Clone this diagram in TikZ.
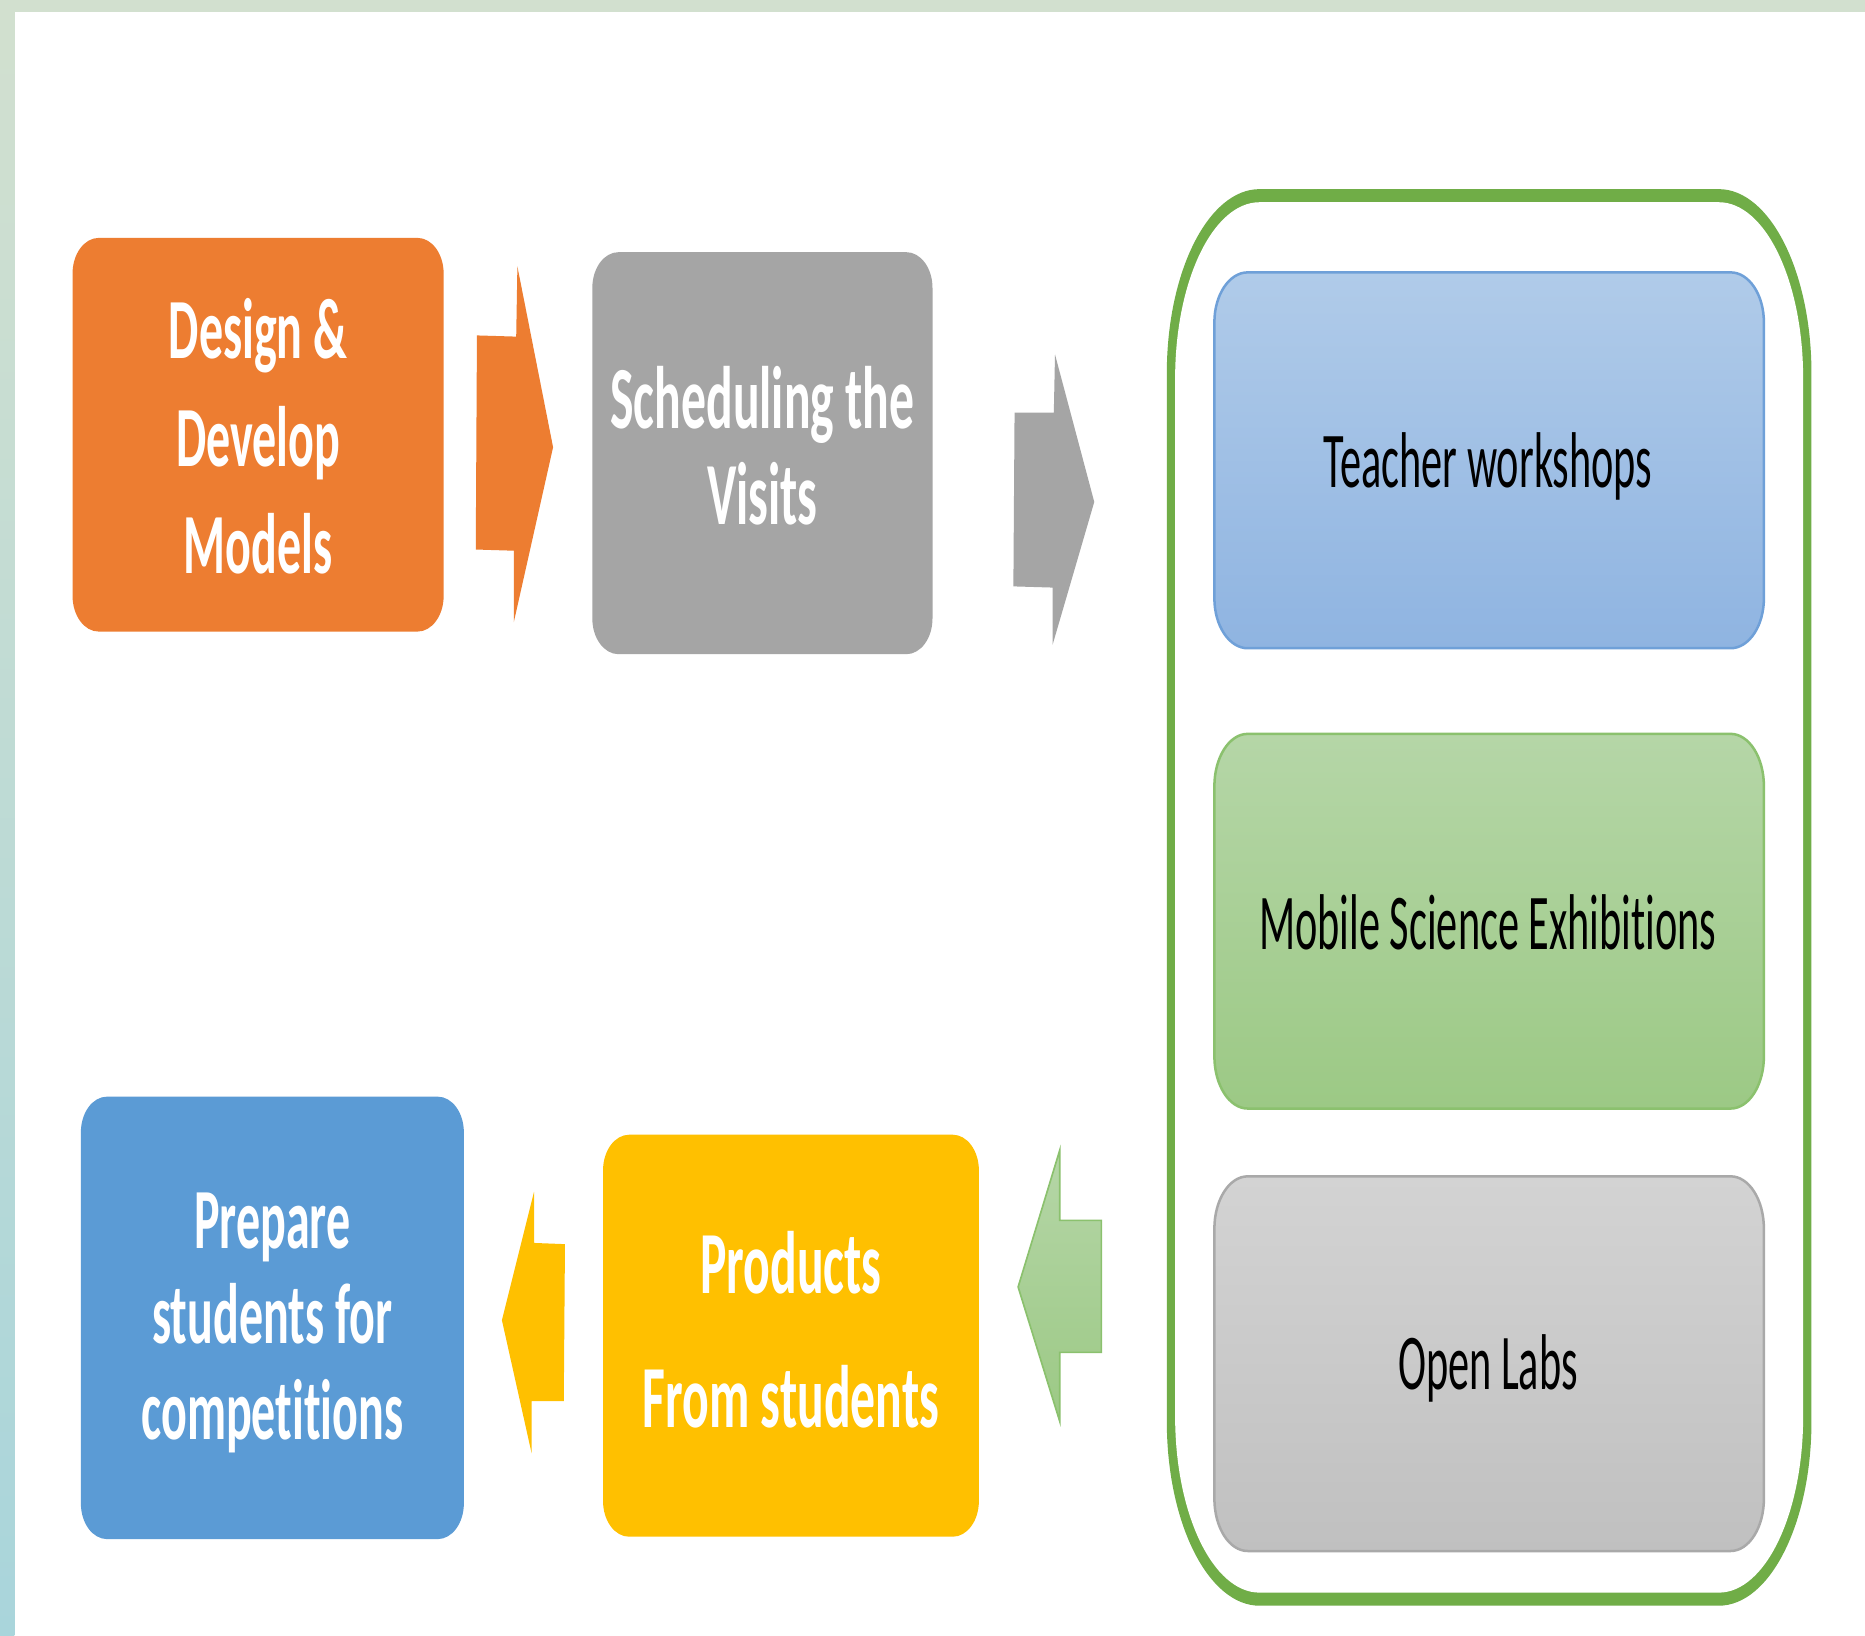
\documentclass[tikz,border=0pt]{standalone}
\usepackage{fontspec}
\newfontfamily\cfont[FakeStretch=0.535, Ligatures={NoCommon,NoContextual}, BoldFeatures={FakeStretch=0.56}]{Carlito}
\definecolor{bandtop}{HTML}{D2E0CF}
\definecolor{bandbot}{HTML}{A9D5DB}
\definecolor{corange}{HTML}{ED7D31}
\definecolor{cgray}{HTML}{A5A5A5}
\definecolor{cblue}{HTML}{5B9BD5}
\definecolor{cyellow}{HTML}{FFC000}
\definecolor{cgreen}{HTML}{70AD47}
\definecolor{tblueT}{HTML}{B0CBE9}
\definecolor{tblueB}{HTML}{8FB4E1}
\definecolor{tblueD}{HTML}{6FA0D8}
\definecolor{mgreenT}{HTML}{B5D6A7}
\definecolor{mgreenB}{HTML}{9CC985}
\definecolor{mgreenD}{HTML}{8BC16E}
\definecolor{lgrayT}{HTML}{D3D3D3}
\definecolor{lgrayB}{HTML}{C0C0C0}
\definecolor{lgrayD}{HTML}{A9A9A9}
% rounded box with elliptical corners: #1 style, #2 x1, #3 y1, #4 x2, #5 y2, #6 rx, #7 ry
\newcommand{\erbox}[7]{%
  \pgfmathsetmacro\eAx{#2+#6}\pgfmathsetmacro\eBx{#4-#6}%
  \pgfmathsetmacro\eAy{#3+#7}\pgfmathsetmacro\eBy{#5-#7}%
  \pgfmathsetmacro\eCxa{#2+0.448*#6}\pgfmathsetmacro\eCxb{#4-0.448*#6}%
  \pgfmathsetmacro\eCya{#3+0.448*#7}\pgfmathsetmacro\eCyb{#5-0.448*#7}%
  \path[#1] (\eAx,#3) -- (\eBx,#3) .. controls (\eCxb,#3) and (#4,\eCya) .. (#4,\eAy)
    -- (#4,\eBy) .. controls (#4,\eCyb) and (\eCxb,#5) .. (\eBx,#5)
    -- (\eAx,#5) .. controls (\eCxa,#5) and (#2,\eCyb) .. (#2,\eBy)
    -- (#2,\eAy) .. controls (#2,\eCya) and (\eCxa,#3) .. (\eAx,#3) -- cycle;%
}
\tikzset{
  boldtxt/.style={text=white, align=center, inner sep=0pt},
  plaintxt/.style={text=black, align=center, inner sep=0pt,
    font=\cfont\fontsize{18.9}{23}\selectfont},
}
\begin{document}
\begin{tikzpicture}[x=0.01cm,y=-0.01cm]
\useasboundingbox (0,0) rectangle (1568,1375);
\fill[white] (0,0) rectangle (1568,1375);
\fill[bandtop] (0,0) rectangle (1568,10);
\shade[top color=bandtop, bottom color=bandbot] (0,0) rectangle (12,1375);

% top row boxes
\erbox{fill=corange}{61}{200}{373}{531}{22}{30}
\erbox{fill=cgray}{498}{212}{784}{550}{22}{30}
% bottom row boxes
\erbox{fill=cblue}{68}{922}{390}{1294}{22}{30}
\erbox{fill=cyellow}{507}{954}{823}{1292}{22}{30}

% green frame
\erbox{fill=cgreen}{981}{159}{1523}{1350}{78}{155}
\erbox{fill=white}{988}{170}{1516}{1339}{71}{148}

% inner boxes
\erbox{top color=tblueT, bottom color=tblueB, draw=tblueD, line width=0.6pt}{1021}{229}{1483}{545}{28}{42}
\erbox{top color=mgreenT, bottom color=mgreenB, draw=mgreenD, line width=0.6pt}{1021}{617}{1483}{932}{28}{44}
\erbox{top color=lgrayT, bottom color=lgrayB, draw=lgrayD, line width=0.6pt}{1021}{989}{1483}{1304}{28}{44}

% block arrows
\fill[corange] (401,282) -- (434,283) -- (435,224) -- (465,376) -- (432,523) -- (432,463) -- (400,462) -- cycle;
\fill[cgray] (853,347) -- (886,347) -- (887,298) -- (920,422) -- (885,542) -- (885,494) -- (852,493) -- cycle;
\path[top color=mgreenT, bottom color=mgreenB, draw=mgreenD, line width=0.4pt]
  (856,1082) -- (891,967) -- (891,1026) -- (926,1026) -- (926,1137) -- (891,1137) -- (891,1195) -- cycle;
\fill[cyellow] (422,1110) -- (449,1002) -- (449,1045) -- (475,1046) -- (474,1178) -- (447,1178) -- (447,1222) -- cycle;

% texts
\node[boldtxt, font=\cfont\bfseries\fontsize{20.5}{25.7}\selectfont] (design) at (217,367) {Design \&\\Develop\\Models};
\node[boldtxt, font=\cfont\bfseries\fontsize{21.2}{23}\selectfont] (sched) at (641,375) {Scheduling the\\Visits};
\node[boldtxt, font=\cfont\bfseries\fontsize{21.2}{32.1}\selectfont] (products) at (665,1118) {Products\\From students};
\node[boldtxt, font=\cfont\bfseries\fontsize{20.5}{22.8}\selectfont] (prepare) at (229,1112) {Prepare\\students for\\compet\kern0pt it\kern0pt ions};
\node[plaintxt, anchor=base] (teacher) at (1251,410) {Teacher workshops};
\node[plaintxt, anchor=base] (mobile) at (1251,798) {Mobile Science Exhibit\kern0pt ions};
\node[plaintxt, anchor=base] (labs) at (1251,1168) {Open Labs};
\end{tikzpicture}
\end{document}
